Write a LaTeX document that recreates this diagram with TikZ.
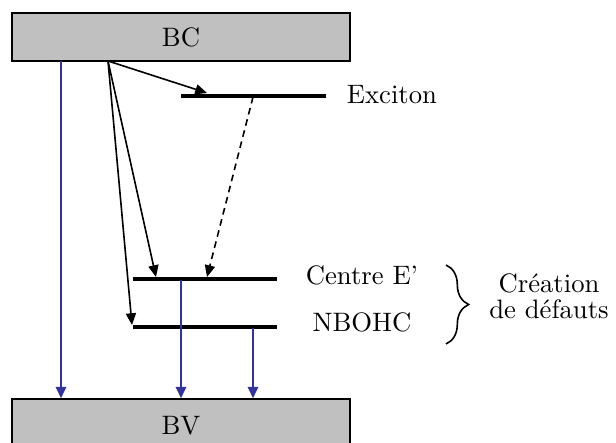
\documentclass[tikz,border=0pt]{standalone}
\usetikzlibrary{arrows.meta, decorations.pathreplacing}
\definecolor{bandGray}{RGB}{192,192,192}
\definecolor{decayBlue}{RGB}{51,51,160}
\tikzset{
  band/.style = {rectangle, draw=black, fill=bandGray, line width=0.6pt,
                 minimum width=126.75pt, inner sep=0pt},
  level/.style = {line width=1.2pt},
  relaxarrow/.style = {-{Triangle[length=4.4pt,width=3.8pt]}, line width=0.6pt},
  decay/.style = {-{Triangle[length=4.2pt,width=3.9pt]}, line width=0.6pt,
                  color=decayBlue},
}

\begin{document}
\begin{tikzpicture}[x=0.375pt, y=-0.375pt,
  every node/.style={font=\normalsize},
  lbl/.style={anchor=base},
]
\useasboundingbox (0,0) rectangle (616,443);

% Bands
\node[band, minimum height=18pt]    (BC) at (181,37)  {BC};
\node[band, minimum height=20.25pt] (BV) at (181,426) {BV};

% Levels
\coordinate (excL) at (181,96);  \coordinate (excR) at (326,96);
\coordinate (ceL)  at (133,279); \coordinate (ceR)  at (277,279);
\coordinate (nbL)  at (133,327); \coordinate (nbR)  at (277,327);
\foreach \a/\b in {excL/excR, ceL/ceR, nbL/nbR}
  \draw[level] (\a) -- (\b);

% Labels
\node[lbl] (exc) at (392,104) {Exciton};
\node[lbl] (ce)  at (362,285) {Centre E'};
\node[lbl] (nb)  at (362,332) {NBOHC};

% Brace
\draw[decorate, decoration={brace, amplitude=8.5pt}, line width=0.6pt]
  (446,265) coordinate (brTop) -- (446,344) coordinate (brBot);
\node[align=center, font=\fontsize{10}{9.75}\selectfont] (def) at (549,296)
  {Création\\de défauts};

% Relaxation from BC
\coordinate (src)     at (108,61);
\coordinate (excHit)  at (207,93);
\coordinate (ceHit)   at (156,277);
\coordinate (nbHit)   at (132,325);
\foreach \t in {excHit, ceHit, nbHit}
  \draw[relaxarrow] (src) -- (\t);
\coordinate (excDrop) at (253,97);
\coordinate (ceDrop)  at (207,277);
\draw[relaxarrow, dash pattern=on 2.5pt off 1.8pt] (excDrop) -- (ceDrop);

% Radiative decay to BV
\coordinate (d1) at (61,61);
\coordinate (d2) at (181,280);
\coordinate (d3) at (253,328);
\foreach \c in {d1, d2, d3}
  \draw[decay] (\c) -- (\c |- BV.north);

\end{tikzpicture}
\end{document}
